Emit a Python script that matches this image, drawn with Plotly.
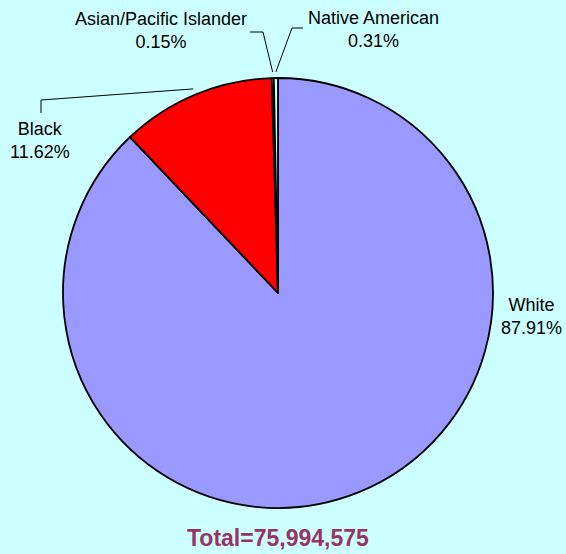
import math
import plotly.graph_objects as go

# Data
labels = ["White", "Black", "Asian/Pacific Islander", "Native American"]
shares = [87.91, 11.62, 0.15, 0.31]
colors = ["#9999FF", "#FF0000", "#FFFFCC", "#CCFFFF"]
total_pop = 75994575

# Page geometry (pixels)
W, H = 566, 554
L, R, T, B = 63, 73, 78, 46
cx, cy = 278, 293

# Label centres and leader line elbows (pixels)
label_pos = {
    "White": (531, 316),
    "Black": (40, 141),
    "Asian/Pacific Islander": (161, 31),
    "Native American": (373, 30),
}
elbows = {
    "Black": [(41, 100), (41, 113)],
    "Asian/Pacific Islander": [(263, 32), (250, 32)],
    "Native American": [(292, 28), (303, 28)],
}


def to_paper(px, py):
    return (px - L) / (W - L - R), (H - B - py) / (H - T - B)


fig = go.Figure()
fig.add_trace(go.Pie(labels=labels, values=shares, sort=False, direction="clockwise", rotation=0,
                     textinfo="none", marker=dict(colors=colors, line=dict(color="black", width=1.8)),
                     showlegend=False))

# Labels and leader lines
font = dict(family="Liberation Sans, Arial", size=18, color="black")
cum = 0
for lab, val in zip(labels, shares):
    mid = (cum + val / 2) / sum(shares) * 2 * math.pi
    cum += val
    x, y = to_paper(*label_pos[lab])
    fig.add_annotation(x=x, y=y, xref="paper", yref="paper", text=f"{lab}<br>{val:.2f}%",
                       showarrow=False, font=font, xanchor="center", yanchor="middle")
    if lab in elbows:
        pts = [(cx + 221 * math.sin(mid), cy - 221 * math.cos(mid))] + elbows[lab]
        pts = [to_paper(px, py) for px, py in pts]
        path = "M " + " L ".join(f"{px} {py}" for px, py in pts)
        fig.add_shape(type="path", path=path, xref="paper", yref="paper",
                      line=dict(color="black", width=1))

# Total
tx, ty = to_paper(278, 538)
fig.add_annotation(x=tx, y=ty, xref="paper", yref="paper", text=f"<b>Total={total_pop:,}</b>",
                   showarrow=False, font=dict(family="Liberation Sans, Arial", size=23, color="#993366"),
                   xanchor="center", yanchor="middle")

fig.update_layout(width=W, height=H, paper_bgcolor="#CCFFFF", plot_bgcolor="#CCFFFF",
                  margin=dict(l=L, r=R, t=T, b=B, autoexpand=False))
# drop the default page margin so the figure fills the window
fig.write_html("out.html", config={"displayModeBar": False},
               post_script="document.body.style.margin='0';")
